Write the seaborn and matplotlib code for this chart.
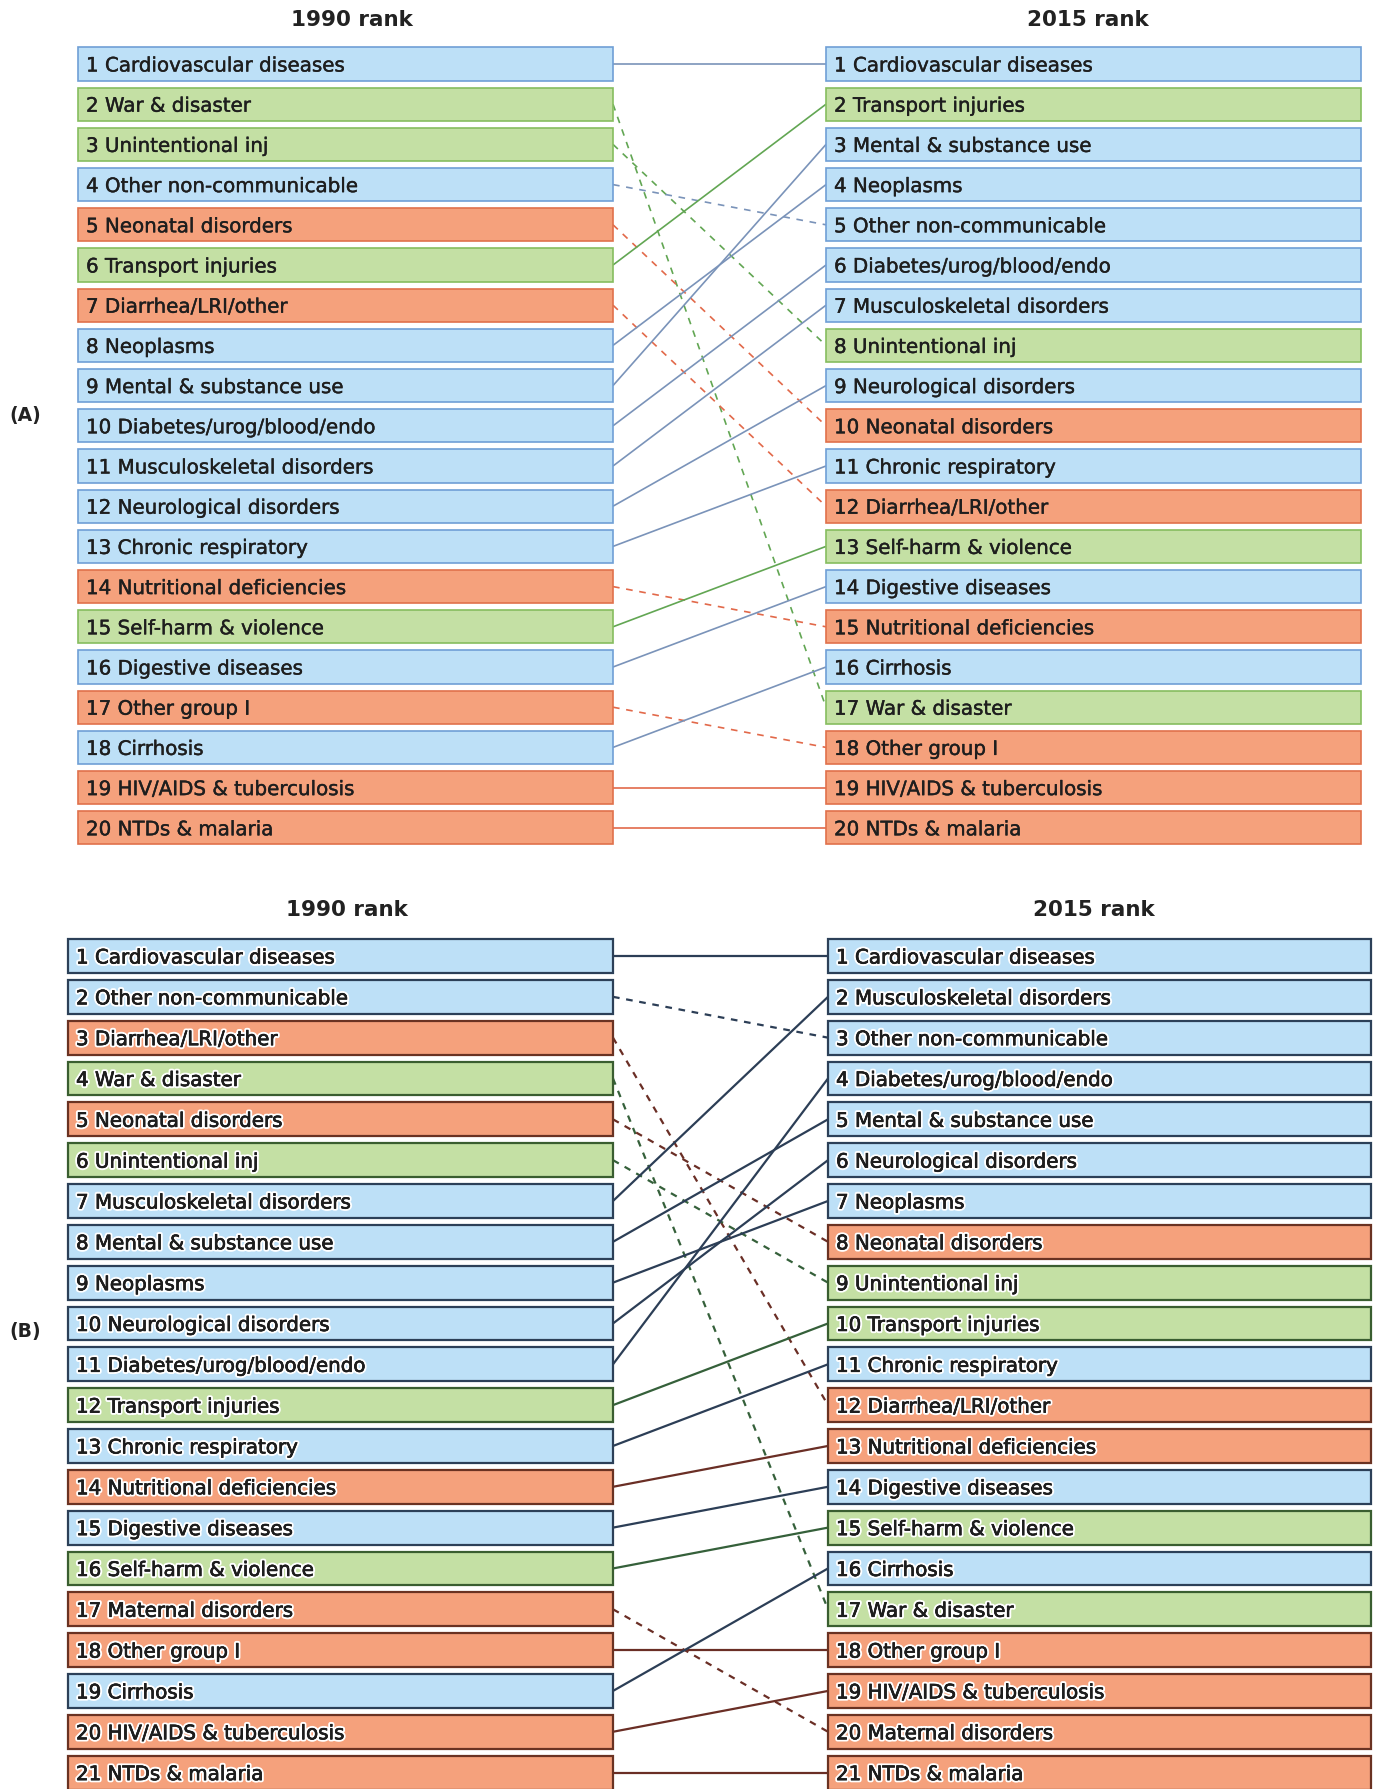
import matplotlib
matplotlib.use("Agg")
import matplotlib.pyplot as plt
import matplotlib.patheffects as pe
import seaborn as sns

# ---- data: cause rankings (1990 -> 2015) ----
rank1990_a = ["Cardiovascular diseases", "War & disaster", "Unintentional inj",
              "Other non-communicable", "Neonatal disorders", "Transport injuries",
              "Diarrhea/LRI/other", "Neoplasms", "Mental & substance use",
              "Diabetes/urog/blood/endo", "Musculoskeletal disorders",
              "Neurological disorders", "Chronic respiratory",
              "Nutritional deficiencies", "Self-harm & violence",
              "Digestive diseases", "Other group I", "Cirrhosis",
              "HIV/AIDS & tuberculosis", "NTDs & malaria"]
rank2015_a = ["Cardiovascular diseases", "Transport injuries", "Mental & substance use",
              "Neoplasms", "Other non-communicable", "Diabetes/urog/blood/endo",
              "Musculoskeletal disorders", "Unintentional inj", "Neurological disorders",
              "Neonatal disorders", "Chronic respiratory", "Diarrhea/LRI/other",
              "Self-harm & violence", "Digestive diseases", "Nutritional deficiencies",
              "Cirrhosis", "War & disaster", "Other group I",
              "HIV/AIDS & tuberculosis", "NTDs & malaria"]

rank1990_b = ["Cardiovascular diseases", "Other non-communicable", "Diarrhea/LRI/other",
              "War & disaster", "Neonatal disorders", "Unintentional inj",
              "Musculoskeletal disorders", "Mental & substance use", "Neoplasms",
              "Neurological disorders", "Diabetes/urog/blood/endo", "Transport injuries",
              "Chronic respiratory", "Nutritional deficiencies", "Digestive diseases",
              "Self-harm & violence", "Maternal disorders", "Other group I",
              "Cirrhosis", "HIV/AIDS & tuberculosis", "NTDs & malaria"]
rank2015_b = ["Cardiovascular diseases", "Musculoskeletal disorders", "Other non-communicable",
              "Diabetes/urog/blood/endo", "Mental & substance use", "Neurological disorders",
              "Neoplasms", "Neonatal disorders", "Unintentional inj", "Transport injuries",
              "Chronic respiratory", "Diarrhea/LRI/other", "Nutritional deficiencies",
              "Digestive diseases", "Self-harm & violence", "Cirrhosis", "War & disaster",
              "Other group I", "HIV/AIDS & tuberculosis", "Maternal disorders",
              "NTDs & malaria"]

ncd_causes = ["Cardiovascular diseases", "Other non-communicable", "Neoplasms",
              "Mental & substance use", "Diabetes/urog/blood/endo",
              "Musculoskeletal disorders", "Neurological disorders",
              "Chronic respiratory", "Digestive diseases", "Cirrhosis"]
injury_causes = ["War & disaster", "Unintentional inj", "Transport injuries",
                 "Self-harm & violence"]
# everything else is communicable / maternal / neonatal / nutritional

fills = {"ncd": "#bde0f7", "inj": "#c4e0a4", "com": "#f5a17c"}
edges_a = {"ncd": "#6f9fd6", "inj": "#86bd5f", "com": "#e0714b"}
lines_a = {"ncd": "#7a93b9", "inj": "#62a653", "com": "#e2694a"}
edges_b = {"ncd": "#2c4058", "inj": "#3a5e30", "com": "#6a3222"}
lines_b = {"ncd": "#2c3e56", "inj": "#35603a", "com": "#6a2e25"}


def group_of(name):
    if name in ncd_causes:
        return "ncd"
    if name in injury_causes:
        return "inj"
    return "com"


sns.set_theme(style="white")
plt.rcParams['font.family'] = ['DejaVu Sans']

W, H = 1378, 1789
fig = plt.figure(figsize=(W / 100, H / 100), dpi=100)


def draw_panel(top, bottom, first_c, step, left_x, right_x, title_y,
               names0, names1, edges, lcols, edge_lw, line_lw, dash, glow):
    ax = fig.add_axes([0, 1 - bottom / H, 1, (bottom - top) / H])
    ax.set_xlim(0, W)
    r_top = 1 - (first_c - top) / step
    r_bot = 1 + (bottom - first_c) / step
    ax.set_ylim(r_bot, r_top)
    ax.axis("off")

    if glow:
        effects = [pe.withStroke(linewidth=3.2, foreground="white"),
                   pe.withStroke(linewidth=0.45, foreground="#1a1a1a")]
    else:
        effects = [pe.withStroke(linewidth=0.3, foreground="#1e1e1e")]

    # connectors first
    for i, name in enumerate(names0):
        r0 = i + 1
        r1 = names1.index(name) + 1
        ls = (0, dash) if r1 > r0 else "-"
        ax.plot([left_x[1], right_x[0]], [r0, r1], color=lcols[group_of(name)],
                lw=line_lw, ls=ls, zorder=1, solid_capstyle="butt")

    for names, (x0, x1) in ((names0, left_x), (names1, right_x)):
        ranks = list(range(1, len(names) + 1))
        grp = [group_of(n) for n in names]
        ax.barh(ranks, width=x1 - x0, left=x0, height=0.83,
                color=[fills[g] for g in grp], edgecolor=[edges[g] for g in grp],
                linewidth=edge_lw, zorder=2)
        for r, n in zip(ranks, names):
            ax.text(x0 + 8, r, f"{r} {n}", va="center_baseline", ha="left",
                    fontsize=14.3, color="#1e1e1e", zorder=3, path_effects=effects)

    r_title = 1 - (first_c - title_y) / step
    ax.text((left_x[0] + left_x[1]) / 2 + 6, r_title, "1990 rank", ha="center",
            va="center", fontsize=15.5, fontweight="bold", color="#222222")
    ax.text((right_x[0] + right_x[1]) / 2 - 6, r_title, "2015 rank", ha="center",
            va="center", fontsize=15.5, fontweight="bold", color="#222222")
    return ax


draw_panel(0, 880, 64, 40.2, (78, 613), (826, 1361), 20,
           rank1990_a, rank2015_a, edges_a, lines_a, 1.2, 1.2, (4, 4), False)
draw_panel(880, 1789, 956, 40.83, (68, 613), (828, 1371), 910,
           rank1990_b, rank2015_b, edges_b, lines_b, 1.6, 1.6, (3, 3), True)

fig.text(9 / W, 1 - 416 / H, "(A)", fontsize=13.5, fontweight="bold",
         va="center", ha="left", color="#222222")
fig.text(9 / W, 1 - 1331 / H, "(B)", fontsize=13.5, fontweight="bold",
         va="center", ha="left", color="#222222")

fig.savefig("out.png", dpi=100, facecolor="white")
